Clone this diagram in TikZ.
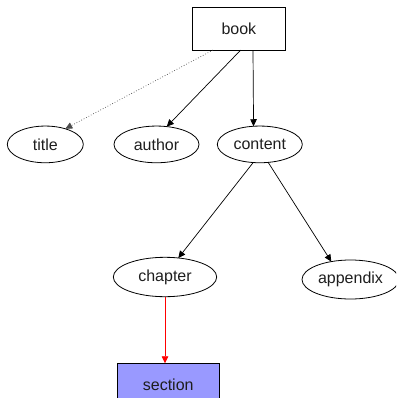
\documentclass[tikz,border=0pt]{standalone}
\usepackage{fontspec}
\setmainfont{Liberation Sans}
\usetikzlibrary{shapes.geometric,arrows.meta}
\definecolor{secfill}{HTML}{9999FF}
\definecolor{txt}{HTML}{1E1E1E}
\begin{document}
\begin{tikzpicture}[x=1pt,y=-1pt,
  every node/.style={font=\fontsize{16}{19}\selectfont, text=txt, inner sep=0pt, outer sep=0pt},
  boxnode/.style={draw, rectangle, line width=0.8pt},
  ovalnode/.style={draw, ellipse, line width=0.8pt},
  edge/.style={line width=0.7pt, -{Triangle[length=7pt,width=6.5pt]}},
]
\clip (0,0) rectangle (396,398);
\useasboundingbox (0,0) rectangle (396,398);
\node[boxnode, minimum width=93.3pt, minimum height=42.7pt] (book) at (238.9,28.7) {book};
\node[ovalnode, minimum width=76pt, minimum height=36.7pt] (title) at (45.3,144.4) {title};
\node[ovalnode, minimum width=85pt, minimum height=36.7pt] (author) at (156.5,144.4) {author};
\node[ovalnode, minimum width=85pt, minimum height=36.7pt] (content) at (259.8,144.4) {content};
\node[ovalnode, minimum width=103.4pt, minimum height=39.4pt] (chapter) at (165,277) {chapter};
\node[ovalnode, minimum width=97pt, minimum height=39pt] (appendix) at (350.5,279.5) {appendix};
\node[boxnode, fill=secfill, minimum width=101.7pt, minimum height=43pt] (section) at (168.2,384.8) {section};

\draw[edge, dotted, draw=black!70] ([xshift=-25.9pt]book.south) -- (title.38);
\draw[edge] ([xshift=1.8pt]book.south) -- (author.60);
\draw[edge] ([xshift=14.1pt]book.south) -- (content.109);
\draw[edge] (content.250) -- (chapter.55);
\draw[edge] (content.295) -- (appendix.137);
\draw[edge, red] (chapter.south) -- (chapter.south |- section.north);
\end{tikzpicture}
\end{document}
